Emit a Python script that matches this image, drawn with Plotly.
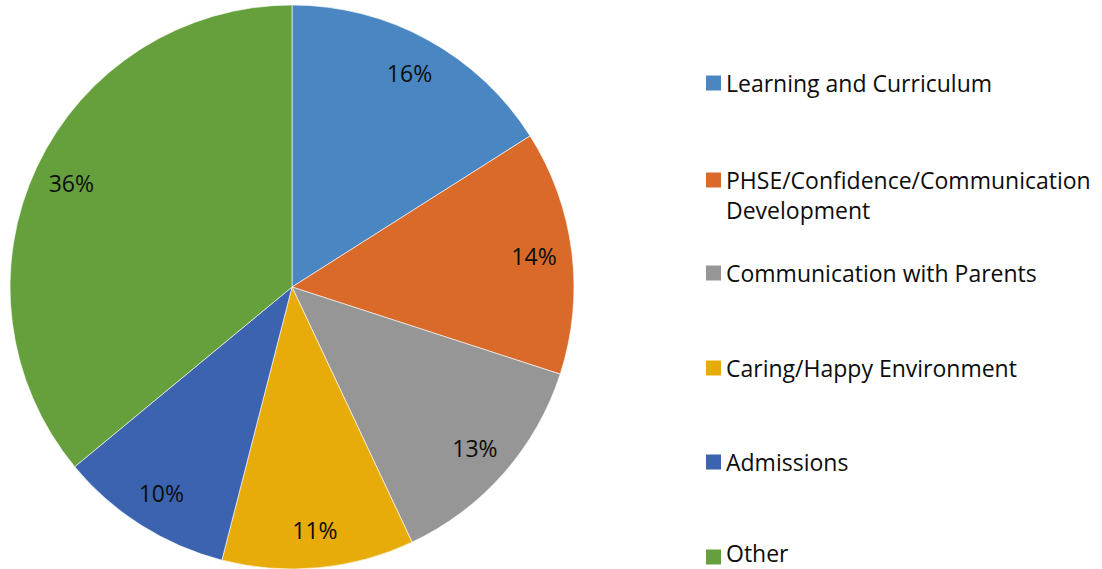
import plotly.graph_objects as go

categories = ["Learning and Curriculum", "PHSE/Confidence/Communication<br>Development",
              "Communication with Parents", "Caring/Happy Environment", "Admissions", "Other"]
values = [16, 14, 13, 11, 10, 36]
colors = ["#4A87C2", "#D96A2A", "#969696", "#E8AC0A", "#3B63B0", "#66A03C"]

W, H = 1102, 569
FONT = "Open Sans"
FS = 23

fig = go.Figure()
dom = dict(x=[10 / W, 574 / W], y=[0, 564 / H])
fig.add_trace(go.Pie(
    values=values, labels=categories, sort=False, direction="clockwise", rotation=0,
    marker=dict(colors=colors, line=dict(color="white", width=0.6)),
    textinfo="none", hoverinfo="skip", domain=dom, showlegend=False,
))
fig.add_trace(go.Pie(
    values=values, labels=categories, sort=False, direction="clockwise", rotation=0,
    hole=0.73,
    marker=dict(colors=["rgba(0,0,0,0)"] * len(values), line=dict(width=0)),
    texttemplate="%{percent:.0%}", textposition="inside", insidetextorientation="horizontal",
    textfont=dict(family=FONT, size=FS, color="#0d0d0d"),
    hoverinfo="skip", domain=dom, showlegend=False,
))

# legend
legend_y = [83, 180, 273, 368, 462, 557]
for cat, col, y in zip(categories, colors, legend_y):
    fig.add_shape(type="rect", xref="paper", yref="paper",
                  x0=706 / W, x1=721 / W, y0=1 - (y + 7.5) / H, y1=1 - (y - 7.5) / H,
                  fillcolor=col, line=dict(width=0))
    top = min(y - 17, H - 33)
    fig.add_annotation(text=cat, xref="paper", yref="paper", x=725 / W,
                       y=1 - top / H, xanchor="left", yanchor="top", align="left",
                       borderpad=0, showarrow=False,
                       font=dict(family=FONT, size=FS, color="#0d0d0d"))

fig.update_layout(width=W, height=H, margin=dict(l=0, r=0, t=0, b=0),
                  paper_bgcolor="white", plot_bgcolor="white")
fig.write_html("out.html")
